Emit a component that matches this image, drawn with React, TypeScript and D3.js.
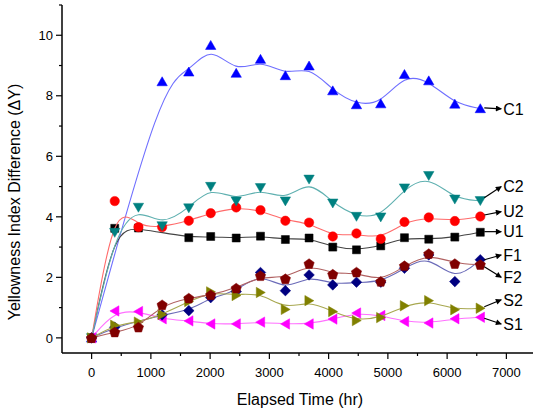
import React from "react";
import * as d3 from "d3";

const times = [0, 390, 790, 1190, 1640, 2010, 2440, 2850, 3270, 3670, 4070, 4470, 4880, 5280, 5690, 6130, 6560];

const C1 = [0, null, null, 8.47, 8.79, 9.67, 8.75, 9.21, 8.67, 8.99, 8.17, 7.71, 7.74, 8.71, 8.5, 7.73, 7.58];
const C2 = [0, 3.48, 4.31, 3.7, 4.29, 5.0, 4.52, 4.96, 4.52, 5.24, 4.45, 4.01, 3.99, 4.95, 5.36, 4.58, 4.53];
const U2 = [0, 4.52, 3.66, 3.66, 3.87, 4.12, 4.31, 4.22, 3.87, 3.81, 3.35, 3.45, 3.27, 3.83, 3.98, 3.86, 4.01];
const U1 = [0, 3.62, 3.63, null, 3.31, 3.35, 3.3, 3.36, 3.25, 3.3, 3.0, 2.91, 3.04, 3.31, 3.26, 3.33, 3.49];
const F1 = [0, 0.35, null, 0.76, 0.9, 1.33, 1.53, 2.16, 1.56, 2.08, 1.75, 1.84, 1.84, 2.3, 2.74, 1.86, 2.58];
const F2 = [0, 0.19, 0.35, 1.09, 1.31, 1.42, 1.64, 2.05, 1.95, 2.45, 2.1, 2.17, 1.86, 2.38, 2.78, 2.45, 2.42];
const S2 = [0, 0.42, 0.52, 0.77, 1.2, 1.52, 1.4, 1.5, 0.94, 1.23, 0.87, 0.57, 0.67, 1.06, 1.23, 0.93, 0.98];
const S1 = [0, 0.89, 0.87, 0.63, 0.56, 0.46, 0.46, 0.52, 0.46, 0.46, 0.62, 0.82, 0.74, 0.54, 0.49, 0.63, 0.68];

const seriesNames = ["C1", "U1", "U2", "C2", "S1", "F1", "S2", "F2"];
const seriesValues = [C1, U1, U2, C2, S1, F1, S2, F2];
const markerColors = ["#0000ff", "#000000", "#ff0000", "#008080", "#ff00ff", "#000080", "#808000", "#800000"];
const lineColors = ["#6f6fff", "#444444", "#ff6a6a", "#5fb0b0", "#ff70ff", "#6a6ab8", "#a8a850", "#b06060"];
const markerShapes = ["up", "square", "circle", "down", "left", "diamond", "right", "pentagon"];

// label positions (in data units): text y, arrow start y
const labelTextY = [7.57, 3.51, 4.17, 5.0, 0.46, 2.74, 1.26, 2.0];
const arrowStartY = [7.6, 3.51, 4.06, 4.63, 0.65, 2.58, 1.03, 2.35];

const xTicks = [0, 1000, 2000, 3000, 4000, 5000, 6000, 7000];
const xMinor = [500, 1500, 2500, 3500, 4500, 5500, 6500];
const yTicks = [0, 2, 4, 6, 8, 10];
const yMinor = [1, 3, 5, 7, 9, 11];

const W = 533;
const H = 420;
const font = "'Liberation Sans', Arial, Helvetica, sans-serif";

function markerPath(shape: string): string {
  const poly = (pts: number[][]) => "M" + pts.map((p) => p.join(",")).join("L") + "Z";
  switch (shape) {
    case "up":
      return poly([[0, -4.8], [5.2, 4.2], [-5.2, 4.2]]);
    case "down":
      return poly([[0, 4.8], [5.2, -4.2], [-5.2, -4.2]]);
    case "right":
      return poly([[4.8, 0], [-4.2, -5.2], [-4.2, 5.2]]);
    case "left":
      return poly([[-4.8, 0], [4.2, -5.2], [4.2, 5.2]]);
    case "square":
      return poly([[-4, -4], [4, -4], [4, 4], [-4, 4]]);
    case "diamond":
      return poly([[0, -5.3], [5.3, 0], [0, 5.3], [-5.3, 0]]);
    case "pentagon": {
      const r = 5.4;
      const pts = d3.range(5).map((i) => {
        const a = -Math.PI / 2 + (i * 2 * Math.PI) / 5;
        return [r * Math.cos(a), r * Math.sin(a) + 0.4];
      });
      return poly(pts);
    }
    default:
      return d3.arc()({ innerRadius: 0, outerRadius: 4.7, startAngle: 0, endAngle: 2 * Math.PI }) as string;
  }
}

export default function App() {
  const x = d3.scaleLinear().domain([-500, 7500]).range([62, 536]);
  const y = d3.scaleLinear().domain([-0.5, 11]).range([353, 5]);

  const line = d3
    .line<[number, number]>()
    .x((d) => x(d[0]))
    .y((d) => y(d[1]))
    .curve(d3.curveBasis);

  const lastT = times[times.length - 1];
  const arrowX0 = x(lastT) + 4;
  const arrowX1 = x(lastT) + 21;

  return (
    <svg
      width={W}
      height={H}
      style={{ position: "fixed", left: 0, top: 0, background: "#fff" }}
      fontFamily={font}
    >
      <defs>
        <marker id="ah" viewBox="0 0 10 10" refX="9" refY="5" markerWidth="8" markerHeight="6" markerUnits="userSpaceOnUse" orient="auto">
          <path d="M0,0L10,5L0,10Z" fill="#000" />
        </marker>
      </defs>

      {/* series */}
      {seriesValues.map((vals, si) => {
        const pts: [number, number][] = [];
        vals.forEach((v, i) => {
          if (v !== null && v !== undefined) pts.push([times[i], v as number]);
        });
        const path = markerPath(markerShapes[si]);
        return (
          <g key={seriesNames[si]}>
            <path d={line(pts) as string} fill="none" stroke={lineColors[si]} strokeWidth={1.1} />
            {pts.map((p, i) => (
              <path
                key={i}
                d={path}
                transform={`translate(${x(p[0])},${y(p[1])})`}
                fill={markerColors[si]}
                stroke={markerColors[si]}
                strokeWidth={0.5}
              />
            ))}
          </g>
        );
      })}

      {/* labels with arrows */}
      {seriesNames.map((name, si) => (
        <g key={"lab" + name}>
          <line
            x1={arrowX0}
            y1={y(arrowStartY[si])}
            x2={arrowX1}
            y2={y(labelTextY[si])}
            stroke="#000"
            strokeWidth={1.2}
            markerEnd="url(#ah)"
          />
          <text x={arrowX1 + 2} y={y(labelTextY[si])} dy="0.36em" fontSize={16} fill="#000">
            {name}
          </text>
        </g>
      ))}

      {/* axes */}
      <line x1={62} y1={y(11)} x2={62} y2={353} stroke="#000" strokeWidth={1.5} />
      <line x1={62} y1={353} x2={W} y2={353} stroke="#000" strokeWidth={1.5} />

      {yTicks.map((t) => (
        <g key={"yt" + t}>
          <line x1={56} x2={62} y1={y(t)} y2={y(t)} stroke="#000" strokeWidth={1.2} />
          <text x={53} y={y(t)} dy="0.36em" textAnchor="end" fontSize={13} fill="#000">
            {t}
          </text>
        </g>
      ))}
      {yMinor.map((t) => (
        <line key={"ym" + t} x1={59} x2={62} y1={y(t)} y2={y(t)} stroke="#000" strokeWidth={1.2} />
      ))}

      {xTicks.map((t) => (
        <g key={"xt" + t}>
          <line x1={x(t)} x2={x(t)} y1={353} y2={359} stroke="#000" strokeWidth={1.2} />
          <text x={x(t)} y={377} textAnchor="middle" fontSize={13} fill="#000">
            {t}
          </text>
        </g>
      ))}
      {xMinor.map((t) => (
        <line key={"xm" + t} x1={x(t)} x2={x(t)} y1={353} y2={356} stroke="#000" strokeWidth={1.2} />
      ))}

      <text x={300} y={405} textAnchor="middle" fontSize={16} fill="#000">
        Elapsed Time (hr)
      </text>
      <text transform="translate(20,202) rotate(-90)" textAnchor="middle" fontSize={16} fill="#000">
        Yellowness Index Difference (ΔY)
      </text>
    </svg>
  );
}
